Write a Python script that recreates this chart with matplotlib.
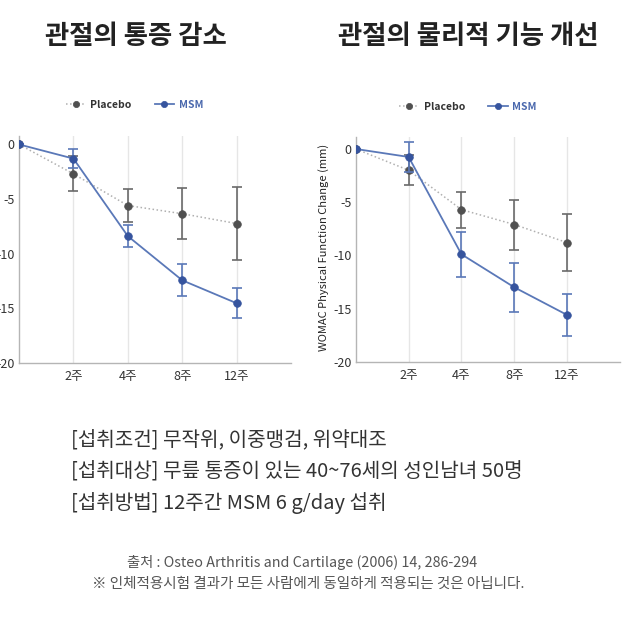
import matplotlib
matplotlib.use("Agg")
import matplotlib.pyplot as plt

plt.rcParams['font.family'] = ['Noto Sans CJK KR', 'DejaVu Sans']

weeks = ['2주', '4주', '8주', '12주']
x = [0, 1, 2, 3, 4]

pain_placebo = [0, -2.7, -5.6, -6.35, -7.25]
pain_placebo_err = [0, 1.6, 1.55, 2.35, 3.35]
pain_msm = [0, -1.3, -8.4, -12.45, -14.55]
pain_msm_err = [0, 0.9, 1.0, 1.45, 1.35]

func_placebo = [0, -2.0, -5.7, -7.1, -8.8]
func_placebo_err = [0, 1.4, 1.7, 2.35, 2.7]
func_msm = [0, -0.75, -9.9, -13.0, -15.6]
func_msm_err = [0, 1.45, 2.1, 2.3, 1.95]

titles = ['관절의 통증 감소', '관절의 물리적 기능 개선']
info_lines = ['[섭취조건] 무작위, 이중맹검, 위약대조',
              '[섭취대상] 무릎 통증이 있는 40~76세의 성인남녀 50명',
              '[섭취방법] 12주간 MSM 6 g/day 섭취']
source = '출처 : Osteo Arthritis and Cartilage (2006) 14, 286-294'
note = '※ 인체적용시험 결과가 모든 사람에게 동일하게 적용되는 것은 아닙니다.'

blue = '#36549e'
gray = '#505050'


def draw_panel(ax, plc, plc_err, msm, msm_err, ytop):
    ax.errorbar(x, plc, yerr=plc_err, fmt='none', ecolor='#6a6a6a',
                elinewidth=1.2, capsize=3.5, capthick=1.2, zorder=2)
    ax.plot(x, plc, linestyle=':', color='#b0b0b0', lw=1.1, marker='o',
            ms=5.5, mfc=gray, mec=gray, mew=0.5, label='Placebo', zorder=3)
    ax.errorbar(x, msm, yerr=msm_err, fmt='none', ecolor='#5a78b8',
                elinewidth=1.2, capsize=3.5, capthick=1.2, zorder=4)
    ax.plot(x, msm, linestyle='-', color='#5a78b8', lw=1.3, marker='o',
            ms=5.5, mfc=blue, mec=blue, mew=0.5, label='MSM', zorder=5)

    ax.set_xlim(0, 5)
    ax.set_ylim(-20, ytop)
    ax.set_xticks(x[1:])
    ax.set_xticklabels(weeks, fontsize=9, color='#333333')
    ax.set_yticks([0, -5, -10, -15, -20])
    ax.set_yticklabels(['0', '-5', '-10', '-15', '-20'], fontsize=9, color='#333333')
    ax.tick_params(axis='x', length=0, pad=5)
    ax.tick_params(axis='y', length=0, pad=3)
    for xv in x[1:]:
        ax.axvline(xv, color='#e6e6e6', lw=1, zorder=0)
    for s in ['top', 'right']:
        ax.spines[s].set_visible(False)
    for s in ['left', 'bottom']:
        ax.spines[s].set_color('#b5b5b5')
        ax.spines[s].set_linewidth(1)
    leg = ax.legend(loc='center', bbox_to_anchor=(0.425, 1.135), ncol=2, frameon=False,
                    prop={'size': 7.5, 'weight': 'bold'}, labelcolor=['#333333', '#4a68ad'],
                    handlelength=1.9, columnspacing=2.2, handletextpad=0.45)
    for h in leg.legend_handles:
        h.set_markersize(4.5)


fig = plt.figure(figsize=(6.4, 6.4), dpi=100)
ax1 = fig.add_axes([0.0297, 0.4333, 0.425, 0.3547])
ax2 = fig.add_axes([0.556, 0.4348, 0.4125, 0.3507])

draw_panel(ax1, pain_placebo, pain_placebo_err, pain_msm, pain_msm_err, 0.8)
draw_panel(ax2, func_placebo, func_placebo_err, func_msm, func_msm_err, 1.1)
ax2.set_ylabel('WOMAC Physical Function Change (mm)', fontsize=8, color='#222222')
ax2.yaxis.set_label_coords(-0.1, 0.51)

fig.text(136 / 640, 1 - 37 / 640, titles[0], ha='center', va='center',
         fontsize=19, fontweight='bold', color='#222222')
fig.text(468 / 640, 1 - 37 / 640, titles[1], ha='center', va='center',
         fontsize=19, fontweight='bold', color='#222222')

for i, line in enumerate(info_lines):
    fig.text(71 / 640, 1 - (441 + 31 * i) / 640, line, ha='left', va='center',
             fontsize=14.5, color='#333333')

fig.text(302 / 640, 1 - 562 / 640, source, ha='center', va='center',
         fontsize=10.3, color='#555555')
fig.text(308 / 640, 1 - 584 / 640, note, ha='center', va='center',
         fontsize=10.5, color='#555555')

fig.savefig('out.png', dpi=100, facecolor='white')
